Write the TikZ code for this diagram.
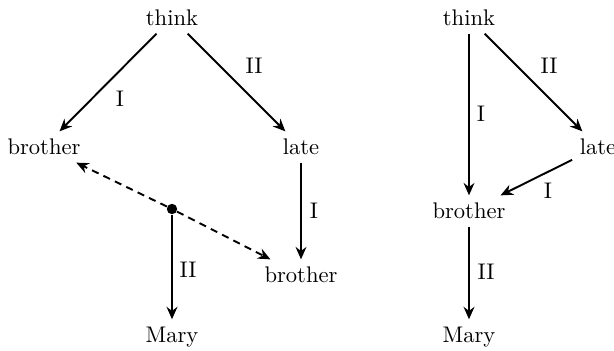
\documentclass[tikz,border=0pt]{standalone}
\usetikzlibrary{arrows.meta}
\begin{document}
\begin{tikzpicture}[x=0.4425pt,y=-0.4425pt,
  word/.style={inner sep=3.2pt},
  lbl/.style={inner sep=0pt},
  arr/.style={line width=0.85pt,-{Stealth[length=5.5pt,width=4.8pt,inset=1.8pt]}},
  darr/.style={arr,dash pattern=on 3.2pt off 2.4pt}]
\useasboundingbox (0,0) rectangle (614,350);
% left tree
\node[word] (t1) at (172,18) {think};
\node[word] (b1) at (44,147) {brother};
\node[word] (l1) at (301,147) {late};
\node[circle,fill,inner sep=0pt,minimum size=4.6pt] (d1) at (172,209) {};
\node[word] (b2) at (301,275) {brother};
\node[word] (m1) at (172,337) {Mary};
\draw[arr] (t1) -- (b1);
\draw[arr] (t1) -- (l1);
\draw[arr] (l1) -- (b2);
\draw[arr] (d1) -- (m1);
\draw[darr] (d1) -- (b1);
\draw[darr] (d1) -- (b2);
\node[lbl] (la) at (120,99) {I};
\node[lbl] (lb) at (254,66) {II};
\node[lbl] (lc) at (314,211) {I};
\node[lbl] (ld) at (188,270) {II};
% right tree
\node[word] (t2) at (469,18) {think};
\node[word] (l2) at (598,147) {late};
\node[word] (b3) at (469,211) {brother};
\node[word] (m2) at (469,337) {Mary};
\draw[arr] (t2) -- (b3);
\draw[arr] (t2) -- (l2);
\draw[arr] (l2) -- (b3);
\draw[arr] (b3) -- (m2);
\node[lbl] (le) at (481,114) {I};
\node[lbl] (lf) at (549,66) {II};
\node[lbl] (lg) at (548,191) {I};
\node[lbl] (lh) at (486,272) {II};
\end{tikzpicture}
\end{document}
